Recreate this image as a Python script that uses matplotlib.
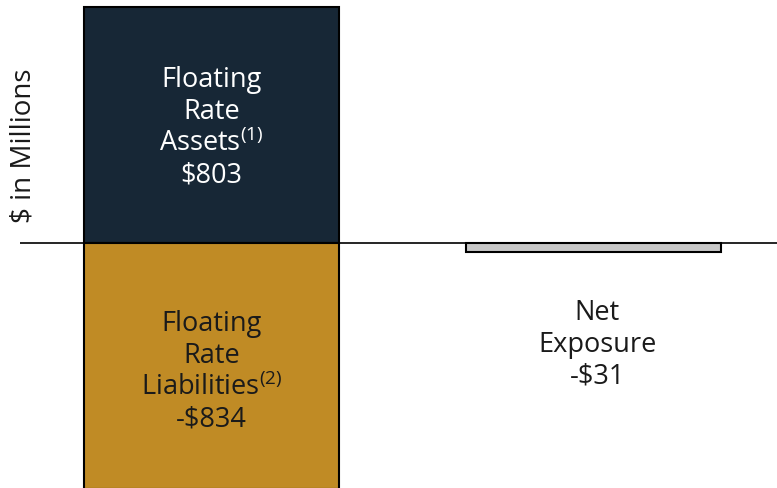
import matplotlib
matplotlib.use('Agg')
from matplotlib import pyplot as plt

plt.rcParams['font.family'] = ['Open Sans', 'DejaVu Sans']
plt.rcParams['mathtext.default'] = 'regular'

# $ in millions
assets = 803
liabilities = -834
net = assets + liabilities
bar_pos = [0, 1.5]

asset_label = 'Floating\nRate\nAssets$^{(1)}$\n\\$%d' % assets
liab_label = 'Floating\nRate\nLiabilities$^{(2)}$\n-\\$%d' % abs(liabilities)
net_label = 'Net\nExposure\n-\\$%d' % abs(net)

fig = plt.figure(figsize=(7.77, 4.88), dpi=100)
ax = fig.add_axes([20 / 777, 0, 757 / 777, 1])

ax.bar(bar_pos[0], assets, width=1, color='#172736', edgecolor='black', linewidth=1.5, zorder=2)
ax.bar(bar_pos[0], liabilities, width=1, color='#c08b25', edgecolor='black', linewidth=1.5, zorder=2)
ax.bar(bar_pos[1], net, width=1, color='#c8c8c8', edgecolor='black', linewidth=1.5, zorder=2)
ax.axhline(0, color='black', linewidth=1.2, zorder=3)

ax.set_xlim(-0.751, 2.22)
ax.set_ylim(-832, 827)
ax.axis('off')

txt = dict(ha='center', va='center', fontsize=19.5, linespacing=1.18)
ax.text(bar_pos[0], assets * 0.488, asset_label, color='white', **txt)
ax.text(bar_pos[0], liabilities * 0.524, liab_label, color='#1a1a1a', **txt)
ax.text(bar_pos[1] + 0.015, -346, net_label, color='#1a1a1a', **txt)

fig.text(24 / 777, 1 - 146 / 488, '$ in Millions', rotation=90, ha='center', va='center',
         color='#1a1a1a', fontsize=20)

plt.savefig('out.png', dpi=100)
plt.close()
